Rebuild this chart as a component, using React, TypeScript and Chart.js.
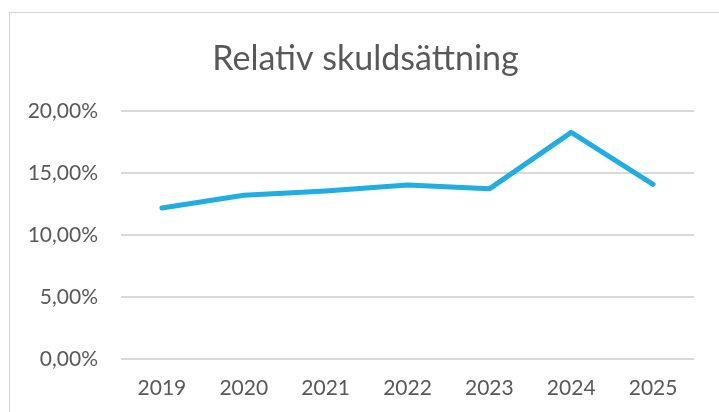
import React, { useEffect, useRef } from "react";
import { Chart, registerables } from "chart.js";

Chart.register(...registerables);

const categories = ["2019", "2020", "2021", "2022", "2023", "2024", "2025"];
const skuldsattning = [12.17, 13.2, 13.55, 14.03, 13.72, 18.28, 14.09];
const yTicks = [0, 5, 10, 15, 20];
const chartTitle = "Relativ skuldsättning";

const TEXT = "#595959";
const GRID = "#d9d9d9";
const LINE = "#1fade4";
const FONT = "Lato, 'Open Sans', sans-serif";

const titlePlugin = {
  id: "excelTitle",
  afterDraw(chart: any) {
    const ctx = chart.ctx;
    ctx.save();
    ctx.fillStyle = TEXT;
    ctx.font = `normal 34px ${FONT}`;
    ctx.textAlign = "center";
    ctx.textBaseline = "middle";
    ctx.fillText(chartTitle, 365.5, 59);
    ctx.restore();
  },
};

export default function App() {
  const ref = useRef<HTMLCanvasElement | null>(null);

  useEffect(() => {
    if (!ref.current) return;
    const chart = new Chart(ref.current, {
      type: "line",
      data: {
        labels: categories,
        datasets: [
          {
            label: chartTitle,
            data: skuldsattning,
            borderColor: LINE,
            backgroundColor: LINE,
            borderWidth: 5,
            borderCapStyle: "round",
            borderJoinStyle: "round",
            pointRadius: 0,
            tension: 0,
          },
        ],
      },
      plugins: [titlePlugin],
      options: {
        responsive: false,
        animation: false,
        layout: { padding: { left: 12, right: 25, top: 111, bottom: 0 } },
        plugins: {
          legend: { display: false },
          tooltip: { enabled: false },
          title: { display: false },
        },
        scales: {
          x: {
            offset: true,
            grid: { display: false, drawTicks: false },
            border: { display: false },
            afterFit: (axis: any) => {
              axis.height = 53;
            },
            ticks: {
              color: TEXT,
              font: { family: FONT, size: 21 },
              padding: 17,
              maxRotation: 0,
            },
          },
          y: {
            min: yTicks[0],
            max: yTicks[yTicks.length - 1],
            afterBuildTicks: (axis: any) => {
              axis.ticks = yTicks.map((v) => ({ value: v }));
            },
            afterFit: (axis: any) => {
              axis.width = 109;
            },
            grid: { color: GRID, lineWidth: 2, drawTicks: false },
            border: { display: false },
            ticks: {
              color: TEXT,
              font: { family: FONT, size: 21 },
              padding: 23,
              callback: (v: any) => `${Number(v).toFixed(2).replace(".", ",")}%`,
            },
          },
        },
      },
    });
    return () => chart.destroy();
  }, []);

  return (
    <>
      <div
        style={{
          position: "fixed",
          left: 9,
          top: 12,
          width: 800,
          height: 500,
          border: "1px solid #d6d6d6",
          boxSizing: "border-box",
        }}
      />
      <canvas
        ref={ref}
        width={719}
        height={412}
        style={{ position: "fixed", left: 0, top: 0, width: 719, height: 412 }}
      />
    </>
  );
}
